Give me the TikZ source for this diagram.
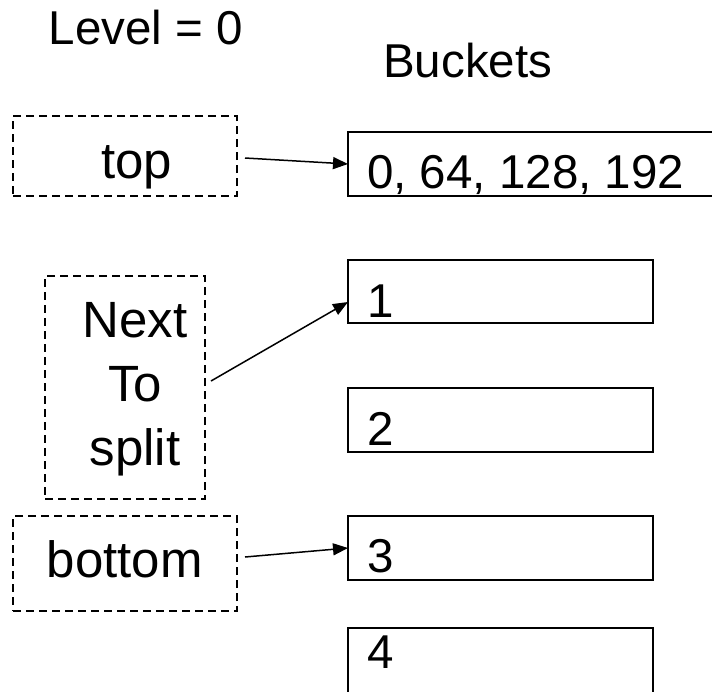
\documentclass[tikz,border=0pt]{standalone}
\usepackage{fontspec}
\setmainfont{Liberation Sans}
\usetikzlibrary{arrows.meta}
\begin{document}
\begin{tikzpicture}[x=1pt,y=-1pt,
  bucket/.style={draw=black,line width=2pt,rectangle,outer sep=0pt,inner sep=0pt,anchor=north west},
  ptrbox/.style={draw=black,line width=2pt,dash pattern=on 8pt off 5pt,rectangle,outer sep=0pt,inner sep=0pt},
  bigtxt/.style={font=\fontsize{47.5}{56}\selectfont,inner sep=0pt,anchor=base west},
  lbltxt/.style={font=\fontsize{51}{64}\selectfont,inner sep=0pt},
  arr/.style={line width=1.5pt,-{Triangle[length=15pt,width=12pt]}}]
\clip (0,0) rectangle (712,691);
\fill[white] (0,0) rectangle (712,691);
% headings
\node[bigtxt] (level) at (48.6,44.5) {Level = 0};
\node[bigtxt] (buckets) at (383,77) {Buckets};
% bucket boxes
\node[bucket,minimum width=400pt,minimum height=64pt] (b0) at (348,132) {};
\node[bucket,minimum width=305pt,minimum height=63pt] (b1) at (348,260) {};
\node[bucket,minimum width=305pt,minimum height=64pt] (b2) at (348,388) {};
\node[bucket,minimum width=305pt,minimum height=64pt] (b3) at (348,516) {};
\node[bucket,minimum width=305pt,minimum height=72pt] (b4) at (348,628) {};
\node[bigtxt] (t0) at (367,188) {0, 64, 128, 192};
\node[bigtxt] (t1) at (367,317) {1};
\node[bigtxt] (t2) at (367,445) {2};
\node[bigtxt] (t3) at (367,572) {3};
\node[bigtxt] (t4) at (367,668) {4};
% pointer boxes
\node[ptrbox,minimum width=224pt,minimum height=80pt] (ptop) at (125,156) {};
\node[ptrbox,minimum width=160pt,minimum height=223pt] (pnext) at (125,387.5) {};
\node[ptrbox,minimum width=224pt,minimum height=95pt] (pbot) at (125,563.5) {};
\node[lbltxt,anchor=base west] (ttop) at (101,178) {top};
\node[lbltxt,anchor=base,align=center] (tnext) at (135,465) {Next\\To\\split};
\node[lbltxt,anchor=base west] (tbot) at (46.6,577) {bottom};
% arrows
\draw[arr] ([xshift=8pt,yshift=-2pt]ptop.east) -- (b0.west);
\draw[arr] ([xshift=6pt,yshift=6.5pt]pnext.east) -- ([yshift=-10.5pt]b1.west);
\draw[arr] ([xshift=8pt,yshift=6.5pt]pbot.east) -- (b3.west);
\end{tikzpicture}
\end{document}
